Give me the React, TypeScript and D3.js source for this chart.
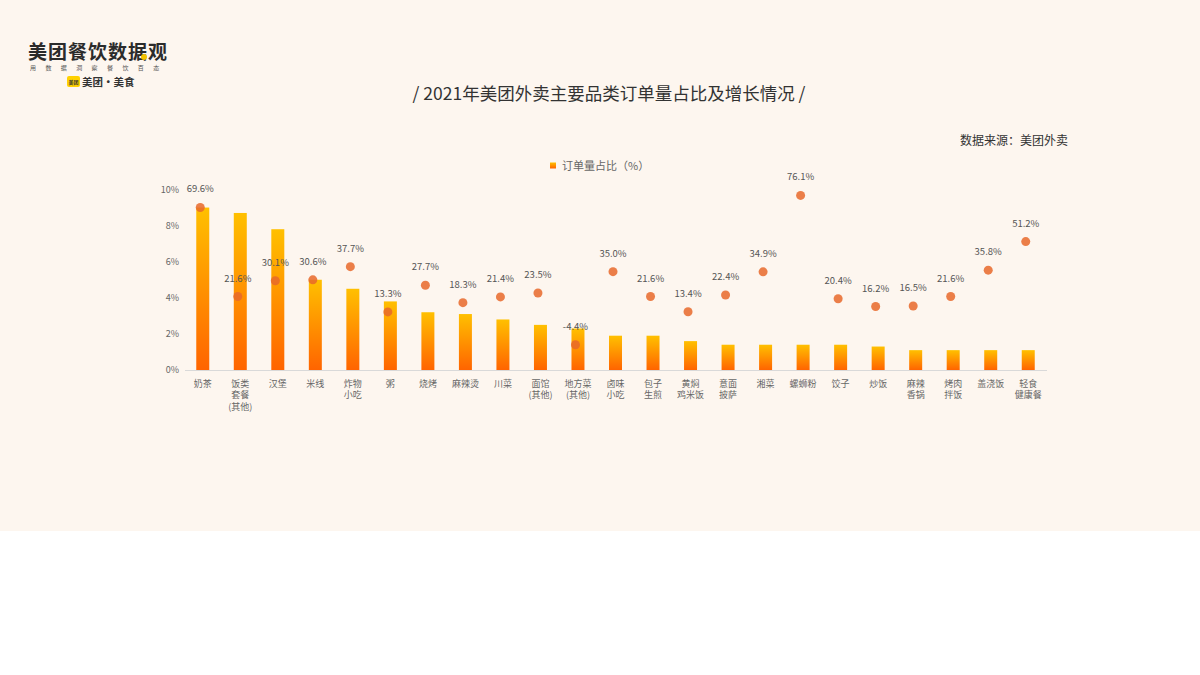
import React from "react";
import * as d3 from "d3";

const categories: string[] = [
  "奶茶", "饭类\n套餐\n(其他)", "汉堡", "米线", "炸物\n小吃", "粥", "烧烤", "麻辣烫", "川菜",
  "面馆\n(其他)", "地方菜\n(其他)", "卤味\n小吃", "包子\n生煎", "黄焖\n鸡米饭", "意面\n披萨",
  "湘菜", "螺蛳粉", "饺子", "炒饭", "麻辣\n香锅", "烤肉\n拌饭", "盖浇饭", "轻食\n健康餐",
];
const orderShare: number[] = [9.0, 8.7, 7.8, 5.0, 4.5, 3.8, 3.2, 3.1, 2.8, 2.5, 2.3, 1.9, 1.9, 1.6, 1.4, 1.4, 1.4, 1.4, 1.3, 1.1, 1.1, 1.1, 1.1];
const growthRate: number[] = [69.6, 21.6, 30.1, 30.6, 37.7, 13.3, 27.7, 18.3, 21.4, 23.5, -4.4, 35.0, 21.6, 13.4, 22.4, 34.9, 76.1, 20.4, 16.2, 16.5, 21.6, 35.8, 51.2];
const yTicks: number[] = [0, 2, 4, 6, 8, 10];

const title = "/ 2021年美团外卖主要品类订单量占比及增长情况 /";
const sourceText = "数据来源：美团外卖";
const legendText = "订单量占比（%）";

const FONT = "'Noto Sans CJK SC', 'Noto Sans', sans-serif";

export default function App() {
  const W = 1200, H = 675;
  const x = d3.scaleBand<string>().domain(categories).range([184, 1047]).padding(0);
  const y = d3.scaleLinear().domain([0, 10]).range([370, 189.5]);
  const y2 = d3.scaleLinear().domain([-18, 79]).range([370, 190]);
  const barW = 13;

  return (
    <svg width={W} height={H} style={{ position: "absolute", left: 0, top: 0 }} fontFamily={FONT}>
      <defs>
        <linearGradient id="barGrad" x1="0" y1="0" x2="0" y2="1">
          <stop offset="0%" stopColor="#ffc000" />
          <stop offset="100%" stopColor="#ff6400" />
        </linearGradient>
      </defs>
      <rect x={0} y={0} width={W} height={H} fill="#ffffff" />
      <rect x={0} y={0} width={W} height={531} fill="#fdf6ef" />

      {/* logo */}
      <text x={28} y={59} fontSize={19} fontWeight={700} fill="#2b2b2b" letterSpacing={1}>美团餐饮数据观</text>
      <circle cx={144} cy={57} r={3} fill="#f5c400" />
      <text x={30} y={70} fontSize={6} fill="#555" letterSpacing={9.4}>用数据洞察餐饮百态</text>
      <rect x={67} y={76} width={13} height={11} rx={2} fill="#ffd100" />
      <text x={73.5} y={83.5} fontSize={5} textAnchor="middle" fill="#333" fontWeight={700}>美团</text>
      <text x={82} y={86} fontSize={10.5} fontWeight={700} fill="#333">美团·美食</text>

      {/* title */}
      <text x={609} y={100} fontSize={17.5} textAnchor="middle" fill="#333">{title}</text>
      <text x={1068} y={145} fontSize={12} textAnchor="end" fill="#333">{sourceText}</text>

      {/* legend */}
      <rect x={550} y={162.5} width={6} height={6} fill="url(#barGrad)" />
      <text x={562} y={169.5} fontSize={11} fill="#666">{legendText}</text>

      {/* y axis */}
      {yTicks.map((t) => (
        <text key={t} x={179} y={y(t) + 3} fontSize={9} textAnchor="end" fill="#666">{t}%</text>
      ))}
      <line x1={185} x2={1047} y1={370.5} y2={370.5} stroke="#d9d9d9" strokeWidth={1} />

      {/* bars */}
      {categories.map((c, i) => {
        const cx = (x(c) as number) + x.bandwidth() / 2;
        return (
          <rect key={"b" + i} x={cx - barW / 2} y={y(orderShare[i])} width={barW} height={y(0) - y(orderShare[i])} fill="url(#barGrad)" />
        );
      })}

      {/* dots */}
      {categories.map((c, i) => {
        const cx = (x(c) as number) + x.bandwidth() / 2 - 2.5;
        const cy = y2(growthRate[i]);
        return (
          <g key={"d" + i}>
            <circle cx={cx} cy={cy} r={4.5} fill="#e8692a" fillOpacity={0.85} />
            <text x={cx} y={cy - 15} fontSize={9.5} textAnchor="middle" fill="#555">{growthRate[i].toFixed(1)}%</text>
          </g>
        );
      })}

      {/* category labels */}
      {categories.map((c, i) => {
        const cx = (x(c) as number) + x.bandwidth() / 2;
        return (
          <text key={"c" + i} x={cx} fontSize={9} textAnchor="middle" fill="#666">
            {c.split("\n").map((line, j) => (
              <tspan key={j} x={cx} y={386.5 + j * 11.7}>{line}</tspan>
            ))}
          </text>
        );
      })}
    </svg>
  );
}
